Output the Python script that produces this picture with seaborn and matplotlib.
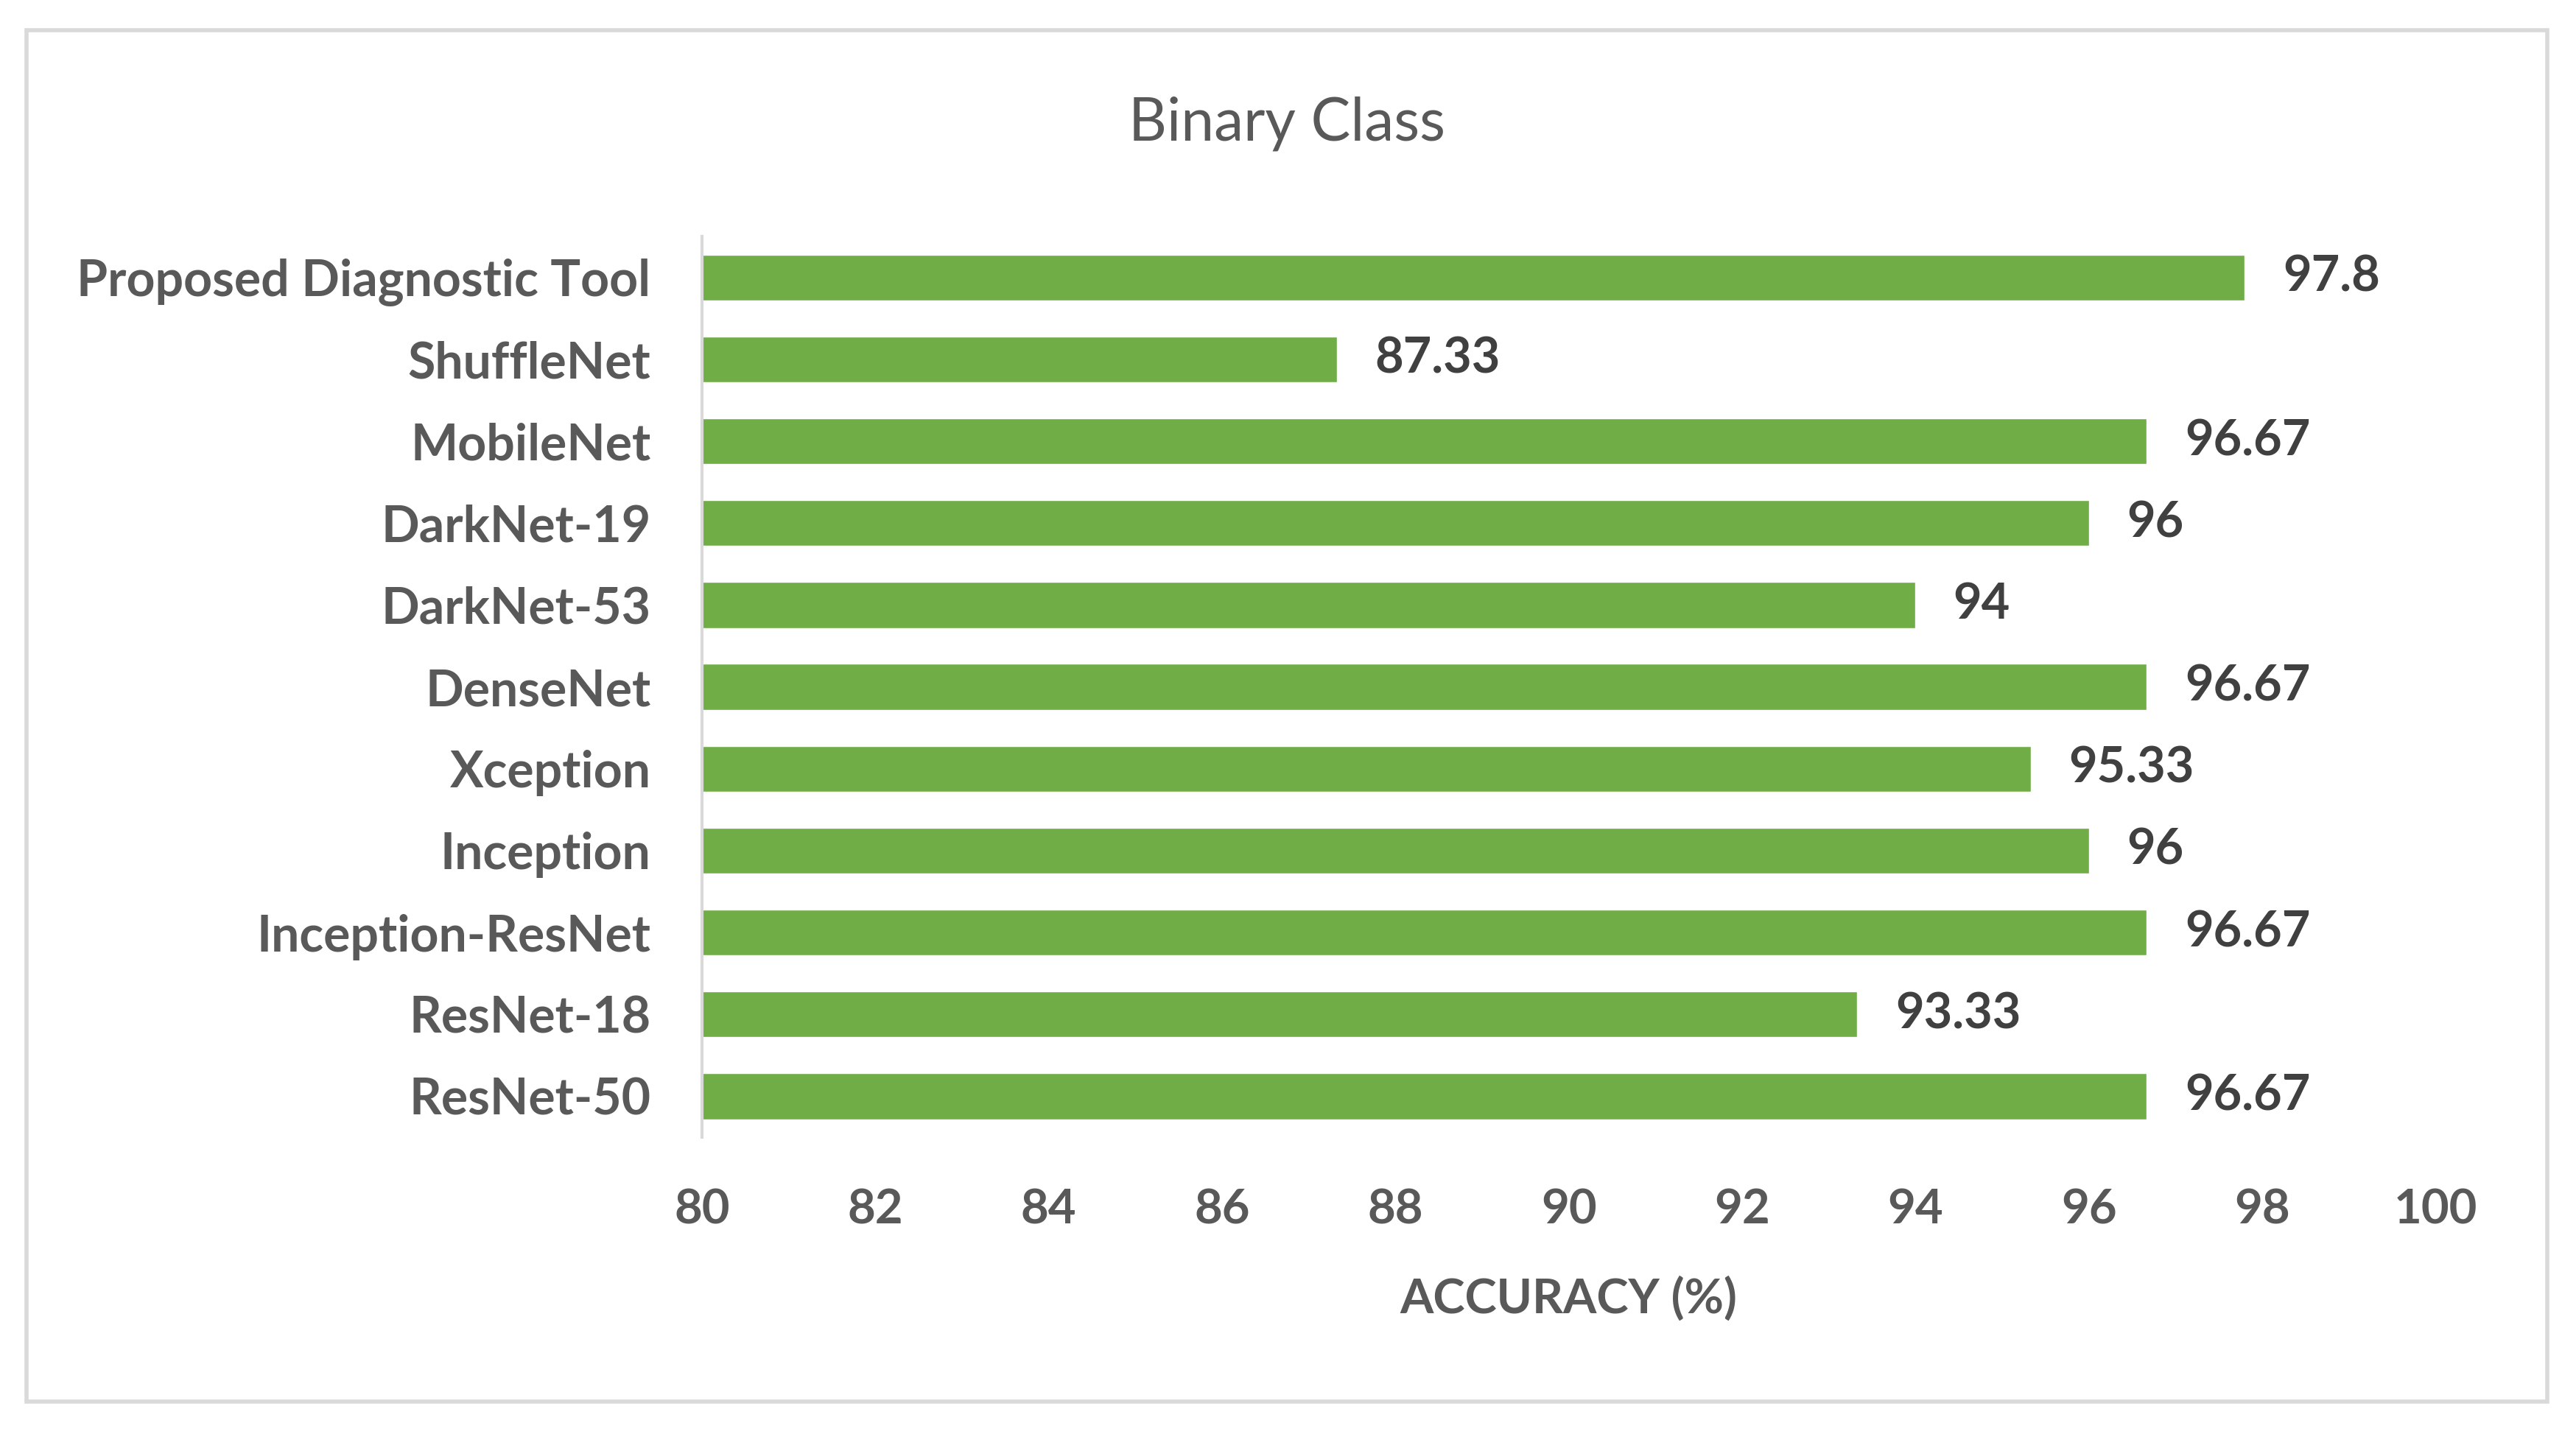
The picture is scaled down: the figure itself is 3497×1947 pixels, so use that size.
import matplotlib
matplotlib.use("Agg")
import matplotlib.pyplot as plt
from matplotlib.patches import Rectangle
import seaborn as sns
import pandas as pd

# chart data (top to bottom)
models = ["Proposed Diagnostic Tool", "ShuffleNet", "MobileNet", "DarkNet-19", "DarkNet-53",
          "DenseNet", "Xception", "Inception", "Inception-ResNet", "ResNet-18", "ResNet-50"]
accuracy = [97.8, 87.33, 96.67, 96, 94, 96.67, 95.33, 96, 96.67, 93.33, 96.67]
x_ticks = [80, 82, 84, 86, 88, 90, 92, 94, 96, 98, 100]

df = pd.DataFrame({"model": models, "accuracy": accuracy})

sns.set_style("white")
plt.rcParams["font.family"] = ["Lato", "DejaVu Sans"]

grey = "#595959"
fig = plt.figure(figsize=(34.98, 19.47), dpi=100)
ax = fig.add_axes([0.2724, 0.207, 0.6728, 0.628])

sns.barplot(data=df, x="accuracy", y="model", orient="h", order=models,
            color="#70AD47", saturation=1, width=0.56, ax=ax)

ax.set_xlim(80, 100)
ax.set_xticks(x_ticks)
ax.set_xticklabels([str(t) for t in x_ticks])
ax.tick_params(axis="x", length=0, pad=50, labelsize=47, labelcolor=grey)
ax.tick_params(axis="y", length=0, pad=50, labelsize=49, labelcolor=grey)
for lbl in ax.get_xticklabels() + ax.get_yticklabels():
    lbl.set_fontweight("bold")

ax.set_ylabel("")
ax.set_xlabel("ACCURACY (%)", fontsize=47, fontweight="bold", color=grey, labelpad=43)

for side in ["top", "right", "bottom"]:
    ax.spines[side].set_visible(False)
ax.spines["left"].set_color("#D9D9D9")
ax.spines["left"].set_linewidth(3)

# value labels
ax.bar_label(ax.containers[0], labels=[f"{v:g}" for v in accuracy], padding=37,
             fontsize=48, fontweight="bold", color="#404040")

fig.text(0.4994, 0.914, "Binary Class", ha="center", va="center", fontsize=58, color=grey)

# chart border
fig.patches.append(Rectangle((0.0103, 0.0226), 0.9783, 0.9564, transform=fig.transFigure,
                             fill=False, edgecolor="#D9D9D9", linewidth=4))

plt.savefig("out.png", dpi=100)
